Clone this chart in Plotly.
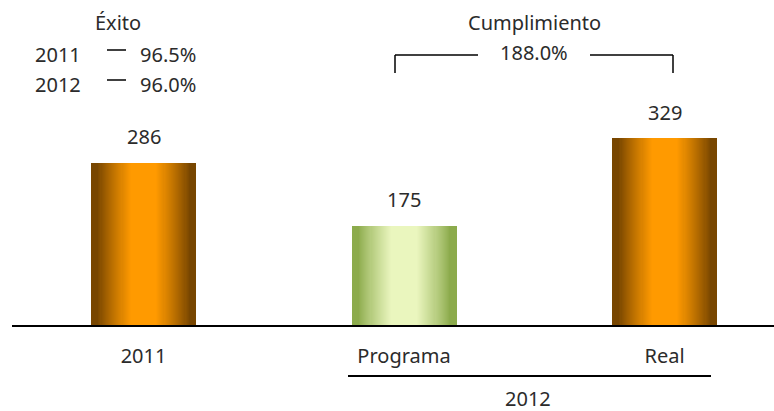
import plotly.graph_objects as go
import numpy as np

# data
categories = ["2011", "Programa", "Real"]
values = [286, 175, 329]
group_label = "2012"
exito_years = ["2011", "2012"]
exito_pct = [96.5, 96.0]
cumplimiento_pct = 188.0

# styling
W, H = 774, 411
ML, MB = 12, 86
plot_w, plot_h = W - ML, H - MB
FONT = "Noto Sans"
FS = 20
TXT = "#2b2b2b"
orange = ((0x78, 0x46, 0x00), (0xff, 0x9a, 0x00))
green = ((0x8c, 0xab, 0x4c), (0xea, 0xf6, 0xbe))
bar_colors = [orange, green, orange]
bar_w = 0.403
x_range = [-0.5048, 2.42]
y_range = [0, plot_h / 0.567]


def px(xp):
    # pixel -> paper x
    return (xp - ML) / plot_w


def py(yp):
    # pixel -> paper y
    return (plot_h - yp) / plot_h


def mix(c, t):
    a, b = c
    return "rgb(%d,%d,%d)" % tuple(int(a[i] + (b[i] - a[i]) * t) for i in range(3))


fig = go.Figure()
xs = list(range(len(categories)))

# fake a horizontal gradient: stacked overlay bars getting narrower and lighter
N = 50
for k in range(N):
    frac = 1 - k / N
    d = 1 - frac  # distance from edge, as part of half width
    t = min(1.0, max(0.0, (d - 0.12) / 0.63))
    t = t ** 0.85
    fig.add_trace(go.Bar(
        x=xs, y=values,
        width=bar_w * frac,
        marker=dict(color=[mix(c, t) for c in bar_colors], line=dict(width=0)),
        showlegend=False, hoverinfo="skip"))

# value labels
for x, v in zip(xs, values):
    fig.add_annotation(x=x, y=v, text=str(v), showarrow=False, yshift=26,
                       font=dict(size=FS, color=TXT, family=FONT))

ann = []
# Éxito block
ann.append(dict(x=px(118), y=py(22), text="Éxito"))
for i, (yr, p) in enumerate(zip(exito_years, exito_pct)):
    yy = 55 + 30 * i
    ann.append(dict(x=px(33), y=py(yy), text=yr, xanchor="left"))
    ann.append(dict(x=px(138), y=py(yy), text="%.1f%%" % p, xanchor="left"))
    fig.add_shape(type="line", xref="paper", yref="paper",
                  x0=px(107), x1=px(126), y0=py(yy - 5), y1=py(yy - 5),
                  line=dict(color="black", width=1.5))

# Cumplimiento block
ann.append(dict(x=px(534), y=py(22), text="Cumplimiento"))
ann.append(dict(x=px(534), y=py(52), text="%.1f%%" % cumplimiento_pct))
for x0, x1 in [(395, 478), (590, 673)]:
    fig.add_shape(type="line", xref="paper", yref="paper",
                  x0=px(x0), x1=px(x1), y0=py(55), y1=py(55),
                  line=dict(color="black", width=1.5))
for xv in [395, 673]:
    fig.add_shape(type="line", xref="paper", yref="paper",
                  x0=px(xv), x1=px(xv), y0=py(55), y1=py(73),
                  line=dict(color="black", width=1.5))

# 2012 group
fig.add_shape(type="line", xref="paper", yref="paper",
              x0=px(348), x1=px(711), y0=py(376), y1=py(376),
              line=dict(color="black", width=2))
ann.append(dict(x=px(528), y=py(398), text=group_label))

for a in ann:
    a.setdefault("xanchor", "center")
    fig.add_annotation(xref="paper", yref="paper", showarrow=False,
                       yanchor="middle",
                       font=dict(size=FS, color=TXT, family=FONT), **a)

fig.update_layout(
    width=W, height=H,
    margin=dict(l=ML, r=0, t=0, b=MB),
    barmode="overlay", bargap=0,
    plot_bgcolor="white", paper_bgcolor="white",
    xaxis=dict(range=x_range, tickvals=xs, ticktext=categories,
               showgrid=False, zeroline=False,
               showline=True, linecolor="black", linewidth=2,
               ticks="outside", ticklen=12, tickcolor="rgba(0,0,0,0)",
               tickfont=dict(size=FS, color=TXT, family=FONT)),
    yaxis=dict(range=y_range, visible=False),
)

# drop the default page margin so the chart sits at the window's corner
fig.write_html("out.html", config={"displayModeBar": False},
               post_script="document.body.style.margin='0';"
                           "document.body.style.overflow='hidden';")
